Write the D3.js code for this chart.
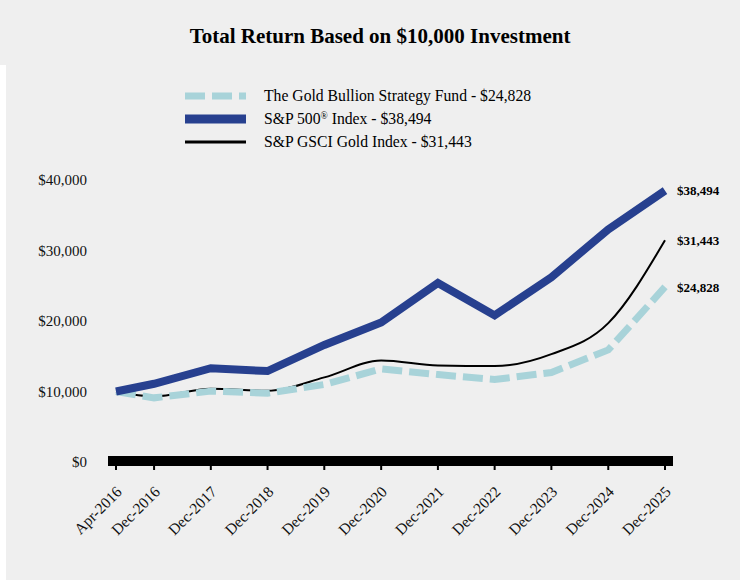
<!DOCTYPE html>
<html>
<head>
<meta charset="utf-8">
<script src="https://cdn.jsdelivr.net/npm/d3@7"></script>
<style>
  body { margin: 0; background: #fff; }
  svg { display: block; font-family: "Liberation Serif", "Times New Roman", serif; }
</style>
</head>
<body>
<div id="chart"></div>
<script>
const dates = ["2016-04-30", "2016-12-31", "2017-12-31", "2018-12-31", "2019-12-31", "2020-12-31",
  "2021-12-31", "2022-12-31", "2023-12-31", "2024-12-31", "2025-12-31"];
const tickLabels = ["Apr-2016", "Dec-2016", "Dec-2017", "Dec-2018", "Dec-2019", "Dec-2020",
  "Dec-2021", "Dec-2022", "Dec-2023", "Dec-2024", "Dec-2025"];
const fundValues = [10000, 9100, 10050, 9750, 11000, 13200, 12400, 11700, 12700, 15900, 24828];
const spValues = [10000, 11100, 13300, 12900, 16600, 19800, 25400, 20800, 26200, 33000, 38494];
const goldValues = [10000, 9300, 10400, 10100, 12000, 14400, 13700, 13600, 15300, 19700, 31443];
const yTicks = [0, 10000, 20000, 30000, 40000];

const W = 740, H = 580;
const parse = d3.timeParse("%Y-%m-%d");
const fmt = d3.format("$,");

const svg = d3.select("#chart").append("svg").attr("width", W).attr("height", H);
svg.append("rect").attr("width", W).attr("height", H).attr("fill", "#efefef");
svg.append("rect").attr("x", 0).attr("y", 65).attr("width", 6).attr("height", H - 65).attr("fill", "#fff");

svg.append("text").attr("x", 380).attr("y", 43).attr("text-anchor", "middle")
  .attr("font-size", 21).attr("font-weight", "bold").text("Total Return Based on $10,000 Investment");

const x = d3.scaleTime().domain([parse(dates[0]), parse(dates[dates.length - 1])]).range([116, 665]);
const y = d3.scaleLinear().domain([0, 40000]).range([462, 180]);

// y labels
svg.append("g").selectAll("text").data(yTicks).join("text")
  .attr("x", 87).attr("y", d => y(d)).attr("dy", "0.35em")
  .attr("text-anchor", "end").attr("font-size", 15).attr("fill", "#111")
  .text(d => fmt(d));

// x axis bar + ticks
svg.append("rect").attr("x", 108).attr("y", 456).attr("width", 565).attr("height", 10).attr("fill", "#000");
const xg = svg.append("g");
xg.selectAll("line").data(dates).join("line")
  .attr("x1", d => x(parse(d))).attr("x2", d => x(parse(d)))
  .attr("y1", 465).attr("y2", 470).attr("stroke", "#000").attr("stroke-width", 2);
xg.selectAll("text").data(dates).join("text")
  .attr("transform", d => `translate(${x(parse(d)) + 3},489) rotate(-45)`)
  .attr("text-anchor", "end").attr("dy", "0.35em").attr("font-size", 15.5).attr("fill", "#111")
  .text((d, i) => tickLabels[i]);

const series = [
  { name: "The Gold Bullion Strategy Fund - $24,828", values: fundValues, color: "#a8d3d9", width: 7, dash: "20 7", curve: d3.curveLinear },
  { name: "S&P 500", values: spValues, color: "#27408f", width: 8, dash: null, curve: d3.curveLinear },
  { name: "S&P GSCI Gold Index - $31,443", values: goldValues, color: "#000", width: 2, dash: null, curve: d3.curveMonotoneX }
];

// draw order: gold, fund, sp
[series[2], series[0], series[1]].forEach(s => {
  const line = d3.line().x((d, i) => x(parse(dates[i]))).y(d => y(d)).curve(s.curve);
  svg.append("path").datum(s.values).attr("d", line)
    .attr("fill", "none").attr("stroke", s.color).attr("stroke-width", s.width)
    .attr("stroke-dasharray", s.dash).attr("stroke-linejoin", "miter");
});

// end labels
series.forEach(s => {
  const v = s.values[s.values.length - 1];
  svg.append("text").attr("x", 677).attr("y", y(v)).attr("dy", "0.35em")
    .attr("font-size", 13).attr("font-weight", "bold").text(fmt(v));
});

// legend
const lg = svg.append("g");
const rows = [96, 119, 142];
const legendSize = 15.7;
series.forEach((s, i) => {
  lg.append("line").attr("x1", 185).attr("x2", 246).attr("y1", rows[i]).attr("y2", rows[i])
    .attr("stroke", s.color).attr("stroke-width", i === 1 ? 9 : (i === 0 ? 7 : 3))
    .attr("stroke-dasharray", s.dash);
});
lg.append("text").attr("x", 264).attr("y", rows[0]).attr("dy", "0.35em").attr("font-size", legendSize).text(series[0].name);
const t2 = lg.append("text").attr("x", 264).attr("y", rows[1]).attr("dy", "0.35em").attr("font-size", legendSize);
t2.append("tspan").text("S&P 500");
t2.append("tspan").attr("font-size", 9.5).attr("dy", "-0.6em").text("®");
t2.append("tspan").attr("dy", "0.35em").text(" Index - $38,494");
lg.append("text").attr("x", 264).attr("y", rows[2]).attr("dy", "0.35em").attr("font-size", legendSize).text(series[2].name);
</script>
</body>
</html>
